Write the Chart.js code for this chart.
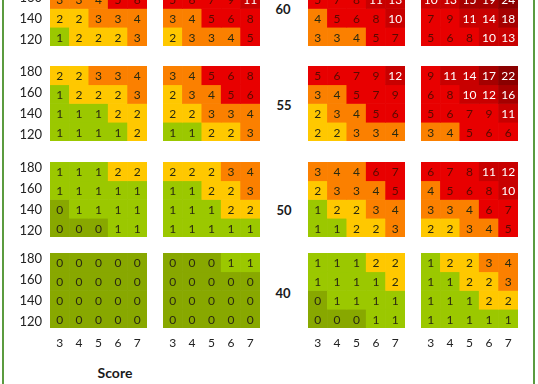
<!DOCTYPE html>
<html>
<head>
<meta charset="utf-8">
<script src="https://cdn.jsdelivr.net/npm/chart.js@4.4.1/dist/chart.umd.min.js"></script>
<style>
  body { margin: 0; background: #fff; width: 538px; height: 384px; overflow: hidden; position: relative; font-family: Lato, sans-serif; }
  canvas { position: absolute; }
  .lbl { position: absolute; font-weight: bold; color: #1a1a1a; transform: translate(-50%, -50%); white-space: nowrap; }
  .edge { position: absolute; top: 0; height: 384px; width: 2px; background: #5b9b3f; }
</style>
</head>
<body>
<div class="edge" style="left:2px"></div>
<div class="edge" style="left:533px"></div>
<script>
const scores = ["3", "4", "5", "6", "7"];
const weights = [180, 160, 140, 120];
const groups = ["60", "55", "50", "40"];

// each grid: rows 180, 160, 140, 120 (the 180 row of the 60 group is cut off in the picture)
const g60a = [null, [3, 3, 4, 5, 6], [2, 2, 3, 3, 4], [1, 2, 2, 2, 3]];
const g60b = [null, [5, 6, 7, 9, 11], [3, 4, 5, 6, 8], [2, 3, 3, 4, 5]];
const g60c = [null, [5, 7, 8, 11, 13], [4, 5, 6, 8, 10], [3, 3, 4, 5, 7]];
const g60d = [null, [10, 13, 15, 19, 24], [7, 9, 11, 14, 18], [5, 6, 8, 10, 13]];

const g55a = [[2, 2, 3, 3, 4], [1, 2, 2, 2, 3], [1, 1, 1, 2, 2], [1, 1, 1, 1, 2]];
const g55b = [[3, 4, 5, 6, 8], [2, 3, 4, 5, 6], [2, 2, 3, 3, 4], [1, 1, 2, 2, 3]];
const g55c = [[5, 6, 7, 9, 12], [3, 4, 5, 7, 9], [2, 3, 4, 5, 6], [2, 2, 3, 3, 4]];
const g55d = [[9, 11, 14, 17, 22], [6, 8, 10, 12, 16], [5, 6, 7, 9, 11], [3, 4, 5, 6, 6]];

const g50a = [[1, 1, 1, 2, 2], [1, 1, 1, 1, 1], [0, 1, 1, 1, 1], [0, 0, 0, 1, 1]];
const g50b = [[2, 2, 2, 3, 4], [1, 1, 2, 2, 3], [1, 1, 1, 2, 2], [1, 1, 1, 1, 1]];
const g50c = [[3, 4, 4, 6, 7], [2, 3, 3, 4, 5], [1, 2, 2, 3, 4], [1, 1, 2, 2, 3]];
const g50d = [[6, 7, 8, 11, 12], [4, 5, 6, 8, 10], [3, 3, 4, 6, 7], [2, 2, 3, 4, 5]];

const g40a = [[0, 0, 0, 0, 0], [0, 0, 0, 0, 0], [0, 0, 0, 0, 0], [0, 0, 0, 0, 0]];
const g40b = [[0, 0, 0, 1, 1], [0, 0, 0, 0, 0], [0, 0, 0, 0, 0], [0, 0, 0, 0, 0]];
const g40c = [[1, 1, 1, 2, 2], [1, 1, 1, 1, 2], [0, 1, 1, 1, 1], [0, 0, 0, 1, 1]];
const g40d = [[1, 2, 2, 3, 4], [1, 1, 2, 2, 3], [1, 1, 1, 2, 2], [1, 1, 1, 1, 1]];

const panels = [
    [g60a, g60b, g60c, g60d],
    [g55a, g55b, g55c, g55d],
    [g50a, g50b, g50c, g50d],
    [g40a, g40b, g40c, g40d],
];

// layout (pixels)
const colLeft = [50, 163, 308, 421];
const colWidth = 97;
const rowTop = [-29, 66, 162, 253];
const rowHeight = 75;
const groupPos = [[283, 9], [284, 105], [284, 210], [283, 293]];

Chart.defaults.font.family = "Lato";
Chart.defaults.color = "#1e1e1e";

function cellColor(v) {
    if (v == 0) return "#88a800";
    if (v == 1) return "#9bc800";
    if (v == 2) return "#ffc800";
    if (v <= 4) return "#fb8000";
    if (v <= 9) return "#e80000";
    if (v <= 14) return "#c80000";
    if (v <= 19) return "#a50000";
    return "#8a0000";
}

function textColor(v) {
    if (v >= 10) return "#ffffff";
    if (v >= 5) return "#5a0a00";
    return "#2a2a10";
}

const cellText = {
    id: "cellText",
    afterDatasetsDraw(chart) {
        const ctx = chart.ctx;
        ctx.save();
        ctx.font = "12px Lato";
        ctx.textAlign = "center";
        ctx.textBaseline = "middle";
        chart.data.datasets.forEach((ds, i) => {
            chart.getDatasetMeta(i).data.forEach((bar, j) => {
                const v = ds.values[j];
                const p = bar.getCenterPoint();
                ctx.fillStyle = textColor(v);
                ctx.fillText(String(v), p.x, p.y + 1);
            });
        });
        ctx.restore();
    },
};

function makeChart(p, g) {
    const first = g === 0;
    const last = p === panels.length - 1;
    const grid = panels[p][g];

    const left = first ? 0 : colLeft[g];
    const canvas = document.createElement("canvas");
    canvas.width = colLeft[g] + colWidth - left;
    canvas.height = rowHeight + (last ? 26 : 0);
    canvas.style.left = left + "px";
    canvas.style.top = rowTop[p] + "px";
    document.body.appendChild(canvas);

    const datasets = [];
    grid.forEach((row, r) => {
        if (!row) return;
        datasets.push({
            data: row.map(() => [weights[r] - 10, weights[r] + 10]),
            values: row,
            backgroundColor: row.map(cellColor),
            borderWidth: 0,
            borderSkipped: false,
            grouped: false,
            barPercentage: 1,
            categoryPercentage: 1,
        });
    });

    new Chart(canvas.getContext("2d"), {
        type: "bar",
        data: { labels: scores, datasets: datasets },
        plugins: [cellText],
        options: {
            responsive: false,
            animation: false,
            events: [],
            layout: { padding: 0 },
            plugins: { legend: { display: false }, tooltip: { enabled: false } },
            scales: {
                x: {
                    display: last,
                    grid: { display: false, drawTicks: false },
                    border: { display: false },
                    ticks: { padding: 8, autoSkip: false, maxRotation: 0, font: { size: 12 }, color: "#222" },
                    afterFit: (s) => {
                        if (last) s.height = 26;
                        s.paddingLeft = s.paddingRight = 0;
                    },
                },
                y: { display: false, min: 110, max: 190 },
                yLabels: {
                    display: first,
                    position: "left",
                    min: 114.5,
                    max: 186,
                    grid: { display: false, drawTicks: false },
                    border: { display: false },
                    ticks: { padding: 8, font: { size: 13 }, color: "#222" },
                    afterBuildTicks: (s) => { s.ticks = weights.map((v) => ({ value: v })); },
                    afterFit: (s) => {
                        if (first) s.width = 50;
                        s.paddingTop = s.paddingBottom = 0;
                    },
                },
            },
        },
    });
}

for (let p = 0; p < panels.length; p++) {
    for (let g = 0; g < 4; g++) makeChart(p, g);
}

function addLabel(text, x, y, size) {
    const d = document.createElement("div");
    d.className = "lbl";
    d.textContent = text;
    d.style.left = x + "px";
    d.style.top = y + "px";
    d.style.fontSize = size + "px";
    document.body.appendChild(d);
}

groups.forEach((t, i) => addLabel(t, groupPos[i][0], groupPos[i][1], 13));
addLabel("Score", 115, 372, 14);
</script>
</body>
</html>
